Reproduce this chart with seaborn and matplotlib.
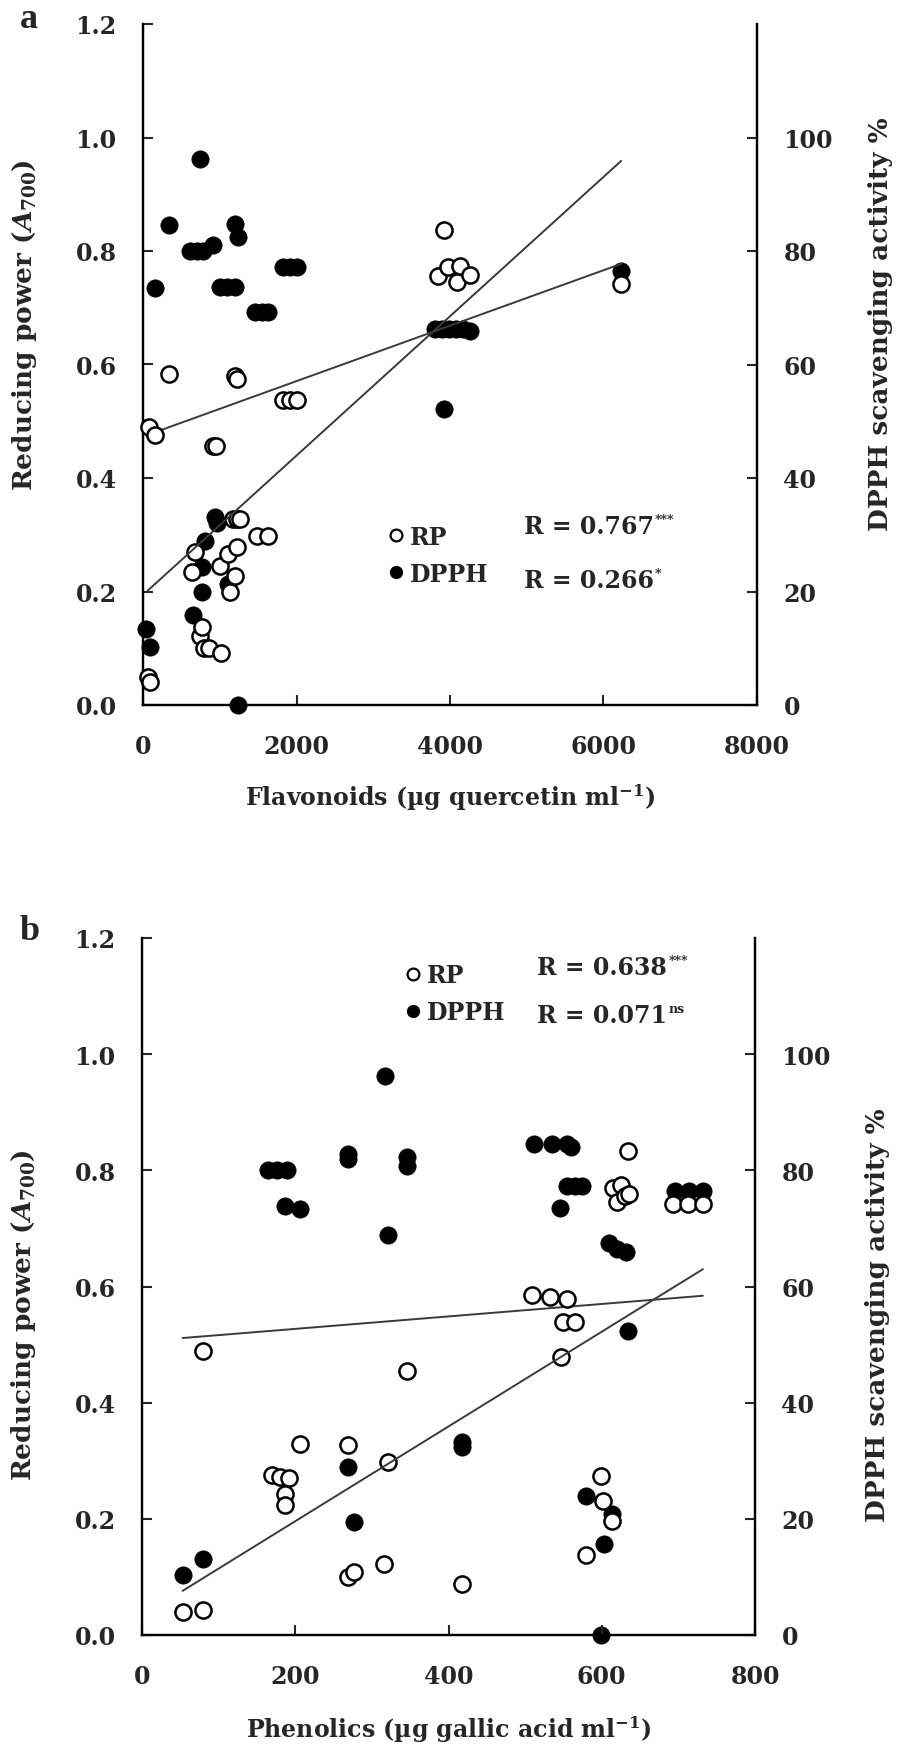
import numpy as np
import matplotlib
matplotlib.use("Agg")
import matplotlib.pyplot as plt
from matplotlib.lines import Line2D
import seaborn as sns

# ---------------------------------------------------------------------------
# DATA
# ---------------------------------------------------------------------------
# panel a: flavonoids (ug quercetin / ml)
a_rp_x = [60, 90, 78, 156, 339, 638, 678, 743, 769, 790, 860, 912, 945, 1003,
          1010, 1107, 1134, 1173, 1199, 1199, 1225, 1230, 1220, 1264, 1485,
          1630, 1824, 1910, 2006, 3845, 3922, 3975, 4090, 4130, 4260, 6230]
a_rp_y = [0.05, 0.04, 0.49, 0.475, 0.583, 0.234, 0.27, 0.122, 0.137, 0.10,
          0.10, 0.457, 0.457, 0.245, 0.092, 0.266, 0.20, 0.328, 0.227, 0.58,
          0.278, 0.575, 0.328, 0.328, 0.298, 0.298, 0.537, 0.537, 0.537,
          0.756, 0.837, 0.772, 0.745, 0.774, 0.758, 0.742]
a_dpph_x = [40, 90, 156, 343, 612, 651, 700, 769, 769, 743, 782, 808, 912,
            938, 960, 1000, 1100, 1107, 1200, 1199, 1238, 1238, 1460, 1550,
            1630, 1824, 1910, 2006, 3800, 3900, 3990, 4080, 4170, 4260, 3922,
            6230]
a_dpph_y = [13.4, 10.3, 73.5, 84.5, 80, 15.9, 80, 24.3, 19.9, 96.2, 80, 28.9,
            81, 33.1, 32, 73.6, 73.6, 21.3, 73.6, 84.8, 82.5, 0, 69.2, 69.2,
            69.2, 77.2, 77.2, 77.2, 66.3, 66.3, 66.3, 66.3, 66.3, 65.9, 52.2,
            76.5]

# panel b: phenolics (ug gallic acid / ml)
b_rp_x = [53, 80, 80, 170, 180, 192, 187, 187, 206, 269, 269, 277, 316, 321,
          346, 418, 509, 532, 555, 550, 565, 547, 579, 599, 602, 613, 615,
          620, 625, 630, 635, 634, 693, 713, 732]
b_rp_y = [0.039, 0.043, 0.489, 0.275, 0.272, 0.27, 0.243, 0.224, 0.329,
          0.327, 0.100, 0.108, 0.122, 0.298, 0.455, 0.088, 0.585, 0.582,
          0.579, 0.539, 0.539, 0.479, 0.138, 0.274, 0.23, 0.196, 0.77, 0.745,
          0.775, 0.755, 0.76, 0.833, 0.742, 0.742, 0.742]
b_dpph_x = [53, 80, 165, 176, 189, 187, 206, 269, 269, 269, 277, 317, 321,
            346, 346, 418, 418, 512, 535, 555, 560, 546, 555, 565, 574, 579,
            599, 603, 613, 610, 620, 632, 634, 695, 714, 732]
b_dpph_y = [10.3, 13.1, 80, 80, 80, 73.9, 73.3, 82.8, 82, 28.9, 19.5, 96.2,
            68.9, 82.3, 80.8, 32.4, 33.2, 84.5, 84.5, 84.5, 84, 73.5, 77.3,
            77.3, 77.3, 23.9, 0, 15.7, 20.8, 67.5, 66.5, 66, 52.3, 76.4, 76.4,
            76.4]

# linear trend lines (slope, intercept) as they appear in the figure
a_rp_fit = (1.2275e-4, 0.194)
a_dpph_fit = (4.885e-3, 47.3)
b_rp_fit = (8.156e-4, 0.0328)
b_dpph_fit = (0.01072, 50.56)

a_r_values = ["R = 0.767", "R = 0.266"]
a_r_signif = ["***", "*"]
b_r_values = ["R = 0.638", "R = 0.071"]
b_r_signif = ["***", "ns"]

# ---------------------------------------------------------------------------
# STYLE
# ---------------------------------------------------------------------------
sns.set_style("white")
plt.rcParams["font.family"] = ["DejaVu Serif"]
plt.rcParams["font.weight"] = "bold"
plt.rcParams["mathtext.fontset"] = "custom"
plt.rcParams["mathtext.rm"] = "DejaVu Serif:bold"
plt.rcParams["mathtext.it"] = "DejaVu Serif:italic:bold"
plt.rcParams["mathtext.bf"] = "DejaVu Serif:bold"

TICK_FS = 17
XLABEL_FS = 17
YLABEL_FS = 19
LEG_FS = 17
LINE_COLOR = "#3a3a3a"
SPINE_W = 1.6


def style_axes(ax, ax2, xmax, xticks):
    ax.set_xlim(0, xmax)
    ax.set_ylim(0, 1.2)
    ax2.set_ylim(0, 120)
    ax.set_xticks(xticks)
    ax.set_yticks(np.arange(0, 1.21, 0.2))
    ax.set_yticklabels([f"{v:.1f}" for v in np.arange(0, 1.21, 0.2)])
    ax2.set_yticks(np.arange(0, 101, 20))
    for a in (ax, ax2):
        a.spines["top"].set_visible(False)
        for s in ("left", "right", "bottom"):
            a.spines[s].set_linewidth(SPINE_W)
            a.spines[s].set_color("black")
    ax.tick_params(axis="y", direction="in", length=7, width=1.5,
                   labelsize=TICK_FS, pad=19, left=True)
    ax.tick_params(axis="x", direction="in", length=7, width=1.5,
                   labelsize=TICK_FS, pad=21, bottom=True)
    ax2.tick_params(axis="y", direction="in", length=7, width=1.5,
                    labelsize=TICK_FS, pad=19, right=True)


def draw_panel(ax, rp_x, rp_y, dp_x, dp_y, rp_fit, dp_fit):
    ax2 = ax.twinx()
    # RP axis drawn on top of the DPPH axis so open circles cover filled ones
    ax.set_zorder(ax2.get_zorder() + 1)
    ax.patch.set_visible(False)

    sns.scatterplot(x=dp_x, y=dp_y, ax=ax2, color="black", s=155,
                    edgecolor="black", linewidth=0.5, clip_on=False, zorder=3)
    sns.scatterplot(x=rp_x, y=rp_y, ax=ax, facecolor="white", s=135,
                    edgecolor="black", linewidth=1.8, clip_on=False, zorder=4)

    xr = np.array([min(rp_x), max(rp_x)])
    ax.plot(xr, rp_fit[0] * xr + rp_fit[1], color=LINE_COLOR, lw=1.4, zorder=5)
    xd = np.array([min(dp_x), max(dp_x)])
    ax2.plot(xd, dp_fit[0] * xd + dp_fit[1], color=LINE_COLOR, lw=1.4, zorder=5)
    return ax2


fig = plt.figure(figsize=(8.98, 17.49), dpi=100)
ax_a = fig.add_axes([143 / 898, 1 - 706 / 1749, 614 / 898, 681 / 1749])
ax_b = fig.add_axes([142 / 898, 1 - 1636 / 1749, 613 / 898, 697 / 1749])

ax_a2 = draw_panel(ax_a, a_rp_x, a_rp_y, a_dpph_x, a_dpph_y, a_rp_fit, a_dpph_fit)
ax_b2 = draw_panel(ax_b, b_rp_x, b_rp_y, b_dpph_x, b_dpph_y, b_rp_fit, b_dpph_fit)

style_axes(ax_a, ax_a2, 8000, [0, 2000, 4000, 6000, 8000])
style_axes(ax_b, ax_b2, 800, [0, 200, 400, 600, 800])

for ax, ax2, xlabel, ylab_pos in [
    (ax_a, ax_a2, r"Flavonoids (µg quercetin ml$^{-1}$)", 0.56),
    (ax_b, ax_b2, r"Phenolics (µg gallic acid ml$^{-1}$)", 0.46),
]:
    ax.set_xlabel(xlabel, fontsize=XLABEL_FS, fontweight="bold")
    ax.set_ylabel(r"Reducing power ($\mathit{A}_{700}$)", fontsize=YLABEL_FS,
                  fontweight="bold")
    ax2.set_ylabel("DPPH scavenging activity %", fontsize=YLABEL_FS,
                   fontweight="bold")
    ax.yaxis.set_label_coords(-0.17, ylab_pos)
    ax2.yaxis.set_label_coords(1.18, ylab_pos)
    ax.xaxis.set_label_coords(0.5, -0.112)

# legends + correlation text
handles = [
    Line2D([], [], marker="o", ls="", markerfacecolor="white",
           markeredgecolor="black", markeredgewidth=1.6, markersize=8.5),
    Line2D([], [], marker="o", ls="", markerfacecolor="black",
           markeredgecolor="black", markersize=8.5),
]
for ax, anchor, rx, ry, values, signif in [
    (ax_a, (0.40, 0.22), 0.62, [0.263, 0.183], a_r_values, a_r_signif),
    (ax_b, (0.43, 0.92), 0.645, [0.958, 0.889], b_r_values, b_r_signif),
]:
    ax.legend(handles, ["RP", "DPPH"], loc="center left",
              bbox_to_anchor=anchor, frameon=False, fontsize=LEG_FS,
              handlelength=0.6, handletextpad=0.3, labelspacing=0.55,
              borderpad=0, borderaxespad=0)
    for y, val, sig in zip(ry, values, signif):
        t = ax.text(rx, y, val, transform=ax.transAxes, fontsize=LEG_FS,
                    fontweight="bold", va="center", ha="left")
        ax.annotate(sig, xy=(1.0, 0.78), xycoords=t, xytext=(1, 0),
                    textcoords="offset points", fontsize=9,
                    fontweight="bold", va="center", ha="left")

fig.text(20 / 898, 1 - 20 / 1749, "a", fontsize=26, fontweight="bold",
         family="Liberation Serif", va="center", ha="left")
fig.text(20 / 898, 1 - 932 / 1749, "b", fontsize=26, fontweight="bold",
         family="Liberation Serif", va="center", ha="left")

fig.savefig("out.png", dpi=100)
